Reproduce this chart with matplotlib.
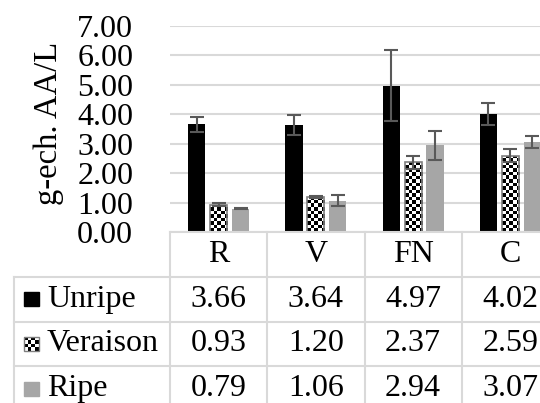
import numpy as np
import matplotlib
matplotlib.use('Agg')
import matplotlib.pyplot as plt
from matplotlib.patches import Rectangle

# data
categories = ['R', 'V', 'FN', 'C']
series = ['Unripe', 'Veraison', 'Ripe']
unripe = [3.66, 3.64, 4.97, 4.02]
veraison = [0.93, 1.20, 2.37, 2.59]
ripe = [0.79, 1.06, 2.94, 3.07]
err_unripe = [0.26, 0.35, 1.20, 0.38]
err_veraison = [0.05, 0.03, 0.22, 0.22]
err_ripe = [0.02, 0.19, 0.50, 0.20]
yticks = [0, 1, 2, 3, 4, 5, 6, 7]

plt.rcParams['font.family'] = ['Liberation Serif', 'DejaVu Serif']

W, H = 540, 403
fig = plt.figure(figsize=(W / 100, H / 100), dpi=100)

# plot area in pixels (right edge runs past the picture)
left_px, right_px, top_px, bot_px = 170, 559, 26, 232
ax = fig.add_axes([left_px / W, 1 - bot_px / H, (right_px - left_px) / W, (bot_px - top_px) / H])

x = np.arange(len(categories))
bw = 0.175
step = 0.225
grid_col = '#d9d9d9'
err_col = '#595959'

ax.bar(x - step, unripe, bw, color='black', zorder=3)
vbars = ax.bar(x, veraison, bw, color='white', edgecolor='#7f7f7f', linewidth=1.2, zorder=3)
ax.bar(x + step, ripe, bw, color='#a6a6a6', zorder=3)

# checkerboard fill for the Veraison bars
px_x = (right_px - left_px) / 4.0
px_y = (bot_px - top_px) / 7.0
cell = 3.5
for b in vbars:
    x0, w, h = b.get_x(), b.get_width(), b.get_height()
    nc = int(np.ceil(w * px_x / cell))
    nr = int(np.ceil(h * px_y / cell))
    board = (np.add.outer(np.arange(nr), np.arange(nc)) % 2).astype(float)
    im = ax.imshow(board, cmap='gray', extent=[x0, x0 + nc * cell / px_x, 0, nr * cell / px_y],
                   origin='lower', interpolation='nearest', aspect='auto', zorder=3.5)
    im.set_clip_path(b)
    b.set_facecolor('none')
    b.set_zorder(4)

for off, vals, errs in [(-step, unripe, err_unripe), (0, veraison, err_veraison), (step, ripe, err_ripe)]:
    ax.errorbar(x + off, vals, yerr=errs, fmt='none', ecolor=err_col, elinewidth=1.5,
                capsize=5, capthick=1.5, zorder=5)

ax.set_xlim(-0.5, 3.5)
ax.set_ylim(0, 7)
ax.set_yticks(yticks)
ax.set_yticklabels(['%.2f' % t for t in yticks], fontsize=23)
ax.tick_params(axis='y', length=0, pad=26.5)
ax.set_xticks([])
ax.yaxis.grid(True, color=grid_col, linewidth=1.5, zorder=0)
ax.set_axisbelow(True)
for s in ax.spines.values():
    s.set_visible(False)

fig.text(49 / W, 1 - 123 / H, 'g-ech. AA/L', rotation=90, ha='center', va='center', fontsize=23.5)

# data table under the plot
tab_bot = 411
tax = fig.add_axes([left_px / W, 1 - tab_bot / H, (right_px - left_px) / W, (tab_bot - bot_px) / H])
tax.set_xlim(-0.5, 3.5)
tax.set_ylim(4, 0)
tax.axis('off')
hx = -0.5 - (left_px - 14) / px_x
lw = 1.5
tax.plot([-0.5, 3.5], [0, 0], color=grid_col, lw=lw, clip_on=False)
for r in [1, 2, 3, 4]:
    tax.plot([hx, 3.5], [r, r], color=grid_col, lw=lw, clip_on=False)
tax.plot([hx, hx], [1, 4], color=grid_col, lw=lw, clip_on=False)
for c in [-0.5, 0.5, 1.5, 2.5, 3.5]:
    tax.plot([c, c], [0, 4], color=grid_col, lw=lw, clip_on=False)

fs = 23
for i, cat in enumerate(categories):
    tax.text(i, 0.5, cat, ha='center', va='center', fontsize=fs)
for r, vals in enumerate([unripe, veraison, ripe]):
    for i, v in enumerate(vals):
        tax.text(i, r + 1.5, '%.2f' % v, ha='center', va='center', fontsize=fs)

kx = -0.5 - (left_px - 24) / px_x
kw = 15 / px_x
rh = (tab_bot - bot_px) / 4.0
kh = 14 / rh
lx = -0.5 - (left_px - 47) / px_x
for r, name in enumerate(series):
    yc = r + 1.5
    if name == 'Unripe':
        tax.add_patch(Rectangle((kx, yc - kh / 2), kw, kh, color='black', clip_on=False))
    elif name == 'Ripe':
        tax.add_patch(Rectangle((kx, yc - kh / 2), kw, kh, color='#a6a6a6', clip_on=False))
    else:
        kb = (np.add.outer(np.arange(4), np.arange(4)) % 2).astype(float)
        tax.imshow(kb, cmap='gray', extent=[kx, kx + kw, yc + kh / 2, yc - kh / 2],
                   interpolation='nearest', aspect='auto', clip_on=False)
        tax.add_patch(Rectangle((kx, yc - kh / 2), kw, kh, facecolor='none',
                                edgecolor='#7f7f7f', lw=1, clip_on=False))
    tax.text(lx, yc, name, ha='left', va='center', fontsize=fs)
tax.set_xlim(-0.5, 3.5)
tax.set_ylim(4, 0)

fig.savefig('out.png', dpi=100)
